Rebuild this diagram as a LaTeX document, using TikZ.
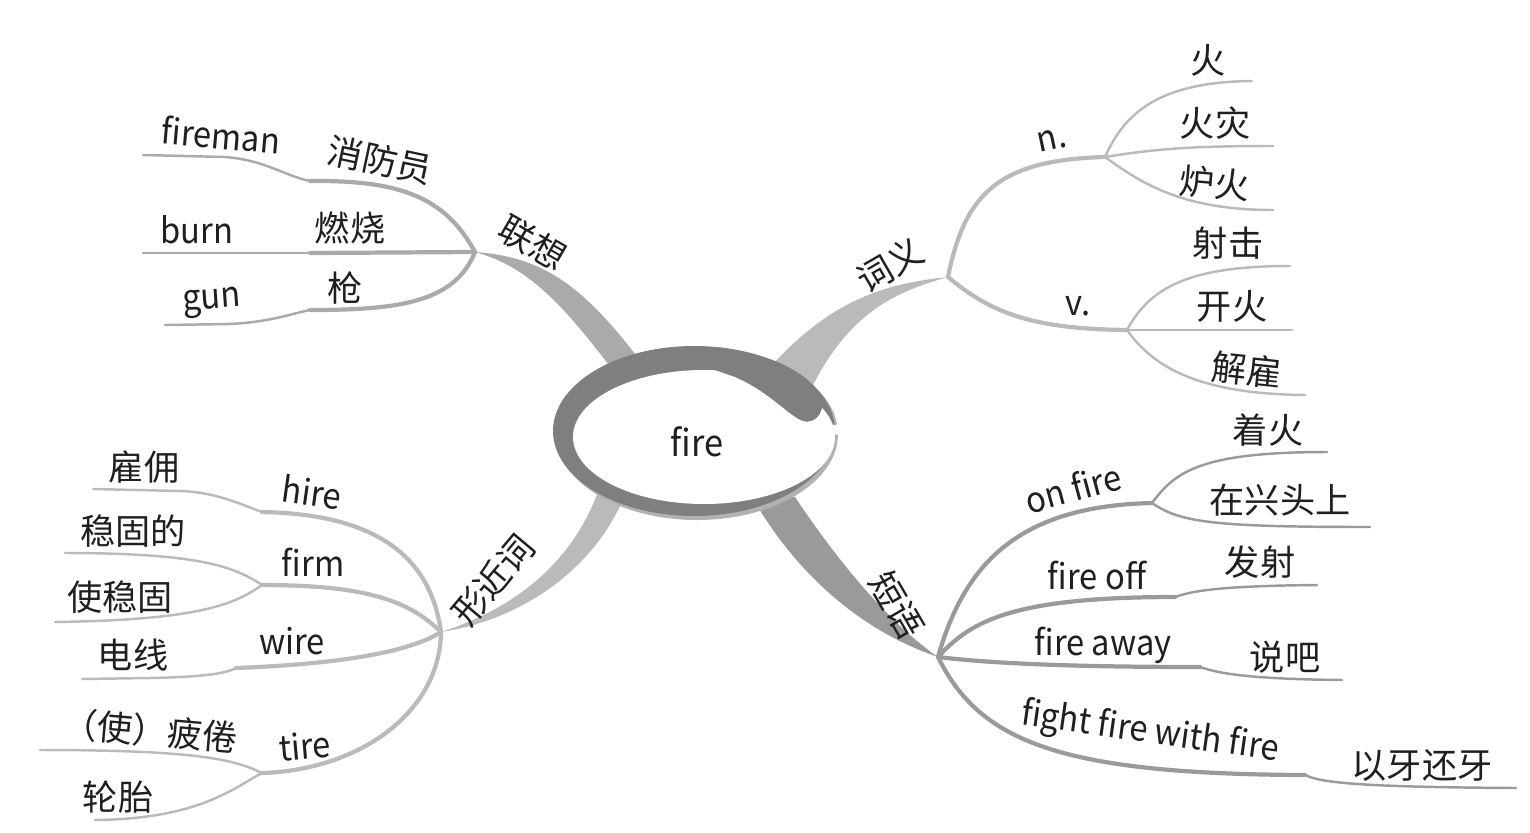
\documentclass[tikz,border=0pt]{standalone}
\usepackage{fontspec}
\setmainfont{Noto Sans CJK SC}
\newfontfamily\latinfont[FakeStretch=0.93]{Noto Sans CJK SC}
\definecolor{ringgray}{HTML}{7F7F7F}
\definecolor{assocgray}{HTML}{AAAAAA}
\definecolor{meangray}{HTML}{BABABA}
\definecolor{phrasegray}{HTML}{9A9A9A}
\tikzset{
  word/.style={font=\fontsize{10}{12}\selectfont, text=black!88, inner sep=0pt},
  en/.style={word, font=\latinfont\fontsize{10}{12}\selectfont},
  twig/.style={line width=1.2pt, line cap=round},
  leaf/.style={line width=0.7pt, line cap=round},
}
\begin{document}
\begin{tikzpicture}[x=0.01cm,y=0.01cm]
\useasboundingbox (0,0) rectangle (1530,832);

%hubs
\coordinate (h1) at (475,580);
\coordinate (h2) at (948,555);
\coordinate (h3) at (441,200);
\coordinate (h4) at (938,175);

%trunks
\fill[assocgray] (h1) .. controls (545,575) and (585,545) .. (645,465)
   -- (618,455) .. controls (565,525) and (530,565) .. (h1);
\fill[meangray] (h2) .. controls (880,548) and (830,530) .. (770,465)
   -- (812,445) .. controls (850,520) and (895,540) .. (h2);
\fill[meangray] (h3) .. controls (510,222) and (570,265) .. (598,340)
   -- (622,330) .. controls (590,260) and (520,212) .. (h3);
\fill[phrasegray] (h4) .. controls (850,205) and (790,270) .. (755,330)
   -- (795,335) .. controls (825,290) and (880,215) .. (h4);

%ring
\fill[black!30] (697,398) ellipse [x radius=141, y radius=86];
\fill[ringgray] (694,401) ellipse [x radius=141, y radius=85];
\fill[white] (704,395) ellipse [x radius=131, y radius=67];
\fill[ringgray] (715,485) .. controls (765,480) and (805,462) .. (820,438)
   .. controls (827,425) and (818,407) .. (803,411)
   .. controls (790,415) and (770,440) .. (735,455) -- (715,462) -- cycle; %knob
\fill[white] (824,406) -- (842,408) -- (842,398) -- (832,397) -- cycle;
\node[en, font=\latinfont\fontsize{10.5}{12}\selectfont] (fire) at (697,390) {fire};

%lianxiang
\node[word, rotate=-30] (assoc) at (533,589) {联想};
\coordinate (f1) at (310,651);
\coordinate (f2) at (143,677);
\coordinate (b1) at (310,579);
\coordinate (b2) at (143,579);
\coordinate (g1) at (310,522);
\coordinate (g2) at (165,507);
\draw[twig, assocgray] (h1) .. controls (445,635) and (400,652) .. (f1);
\draw[leaf, assocgray] (f1) .. controls (285,656) and (265,672) .. (225,675) -- (f2);
\draw[twig, assocgray] (h1) -- (b1);
\draw[leaf, assocgray] (b1) -- (b2);
\draw[twig, assocgray] (h1) .. controls (455,530) and (400,522) .. (g1);
\draw[leaf, assocgray] (g1) .. controls (290,518) and (270,510) .. (230,508) -- (g2);
\node[word, rotate=-12] (fireman zh) at (380,672) {消防员};
\node[en, rotate=-5] (fireman) at (221,697) {fireman};
\node[word] (burn zh) at (350,604) {燃烧};
\node[en] (burn) at (197,602) {burn};
\node[word] (gun zh) at (345,544) {枪};
\node[en, rotate=4] (gun) at (212,529) {gun};

%ciyi
\node[word, rotate=30] (meaning) at (890,567) {词义};
\coordinate (n1) at (1105,675);
\coordinate (v1) at (1127,502);
\draw[twig, meangray] (h2) .. controls (965,640) and (1000,672) .. (n1);
\draw[twig, meangray] (h2) .. controls (990,520) and (1030,503) .. (v1);
\node[en, rotate=12] (noun) at (1052,692) {n.};
\node[en] (verb) at (1078,526) {v.};
\coordinate (n2) at (1252,751);
\coordinate (n3) at (1273,686);
\coordinate (n4) at (1273,622);
\draw[leaf, meangray] (n1) .. controls (1125,720) and (1160,750) .. (n2);
\draw[leaf, meangray] (n1) .. controls (1160,684) and (1200,686) .. (n3);
\draw[leaf, meangray] (n1) .. controls (1140,650) and (1180,622) .. (n4);
\node[word] (huo) at (1208,772) {火};
\node[word] (huozai) at (1215,709) {火灾};
\node[word, rotate=-5] (luhuo) at (1215,649) {炉火};
\coordinate (v2) at (1290,566);
\coordinate (v3) at (1292,502);
\coordinate (v4) at (1305,437);
\draw[leaf, meangray] (v1) .. controls (1150,545) and (1190,566) .. (v2);
\draw[leaf, meangray] (v1) -- (v3);
\draw[leaf, meangray] (v1) .. controls (1150,470) and (1190,438) .. (v4);
\node[word] (sheji) at (1228,589) {射击};
\node[word] (kaihuo) at (1232,526) {开火};
\node[word, rotate=-6] (jiegu) at (1247,462) {解雇};

%xingjinci
\node[word, rotate=50] (similar) at (493,252) {形近词};
\coordinate (s1) at (262,320);
\coordinate (s2) at (93,343);
\coordinate (m1) at (262,247);
\coordinate (m2) at (65,279);
\coordinate (m3) at (55,210);
\coordinate (w1) at (236,164);
\coordinate (w2) at (82,153);
\coordinate (t1) at (262,59);
\coordinate (t2) at (40,82);
\coordinate (t3) at (95,12);
\draw[twig, meangray] (h3) .. controls (430,280) and (370,318) .. (s1);
\draw[leaf, meangray] (s1) .. controls (240,328) and (215,340) .. (180,341) -- (s2);
\draw[twig, meangray] (h3) .. controls (410,230) and (370,247) .. (m1);
\draw[leaf, meangray] (m1) .. controls (235,265) and (200,279) .. (m2);
\draw[leaf, meangray] (m1) .. controls (235,228) and (200,212) .. (m3);
\draw[twig, meangray] (h3) .. controls (410,180) and (340,168) .. (w1);
\draw[leaf, meangray] (w1) .. controls (225,158) and (200,155) .. (150,154) -- (w2);
\draw[twig, meangray] (h3) .. controls (440,120) and (360,62) .. (t1);
\draw[leaf, meangray] (t1) .. controls (235,72) and (200,82) .. (t2);
\draw[leaf, meangray] (t1) .. controls (235,45) and (200,13) .. (t3);
\node[en, rotate=-8] (hire) at (312,340) {hire};
\node[word] (hire zh) at (144,365) {雇佣};
\node[en] (firm) at (313,270) {firm};
\node[word] (firm zh) at (133,301) {稳固的};
\node[word] (firm vb) at (120,235) {使稳固};
\node[en] (wire) at (292,191) {wire};
\node[word] (wire zh) at (133,177) {电线};
\node[en, rotate=5] (tire) at (305,86) {tire};
\node[word, rotate=-5] (tire vb) at (150,101) {（使）疲倦};
\node[word] (tire zh) at (118,35) {轮胎};

%duanyu
\node[word, rotate=-60] (phrase) at (897,227) {短语};
\coordinate (o1) at (1152,329);
\coordinate (o2) at (1327,380);
\coordinate (o3) at (1370,305);
\coordinate (p1) at (1175,235);
\coordinate (p2) at (1317,247);
\coordinate (a1) at (1200,165);
\coordinate (a2) at (1342,152);
\coordinate (k1) at (1305,57);
\coordinate (k2) at (1516,44);
\draw[twig, phrasegray] (h4) .. controls (965,270) and (1020,326) .. (o1);
\draw[leaf, phrasegray] (o1) .. controls (1175,360) and (1200,380) .. (o2);
\draw[leaf, phrasegray] (o1) .. controls (1180,310) and (1210,305) .. (o3);
\draw[twig, phrasegray] (h4) .. controls (970,210) and (1010,235) .. (p1);
\draw[leaf, phrasegray] (p1) .. controls (1190,240) and (1210,246) .. (p2);
\draw[twig, phrasegray] (h4) .. controls (980,170) and (1050,165) .. (a1);
\draw[leaf, phrasegray] (a1) .. controls (1215,160) and (1240,153) .. (a2);
\draw[twig, phrasegray] (h4) .. controls (980,90) and (1060,58) .. (k1);
\draw[leaf, phrasegray] (k1) .. controls (1320,50) and (1350,45) .. (k2);
\node[en, rotate=15] (onfire) at (1073,344) {on fire};
\node[word] (onfire a) at (1268,402) {着火};
\node[word] (onfire b) at (1280,332) {在兴头上};
\node[en] (fireoff) at (1097,257) {fire off};
\node[word] (fireoff zh) at (1260,270) {发射};
\node[en] (fireaway) at (1103,187) {fire away};
\node[word] (fireaway zh) at (1285,175) {说吧};
\node[en, rotate=-8] (fight) at (1150,99) {fight fire with fire};
\node[word] (fight zh) at (1422,67) {以牙还牙};

\end{tikzpicture}
\end{document}
